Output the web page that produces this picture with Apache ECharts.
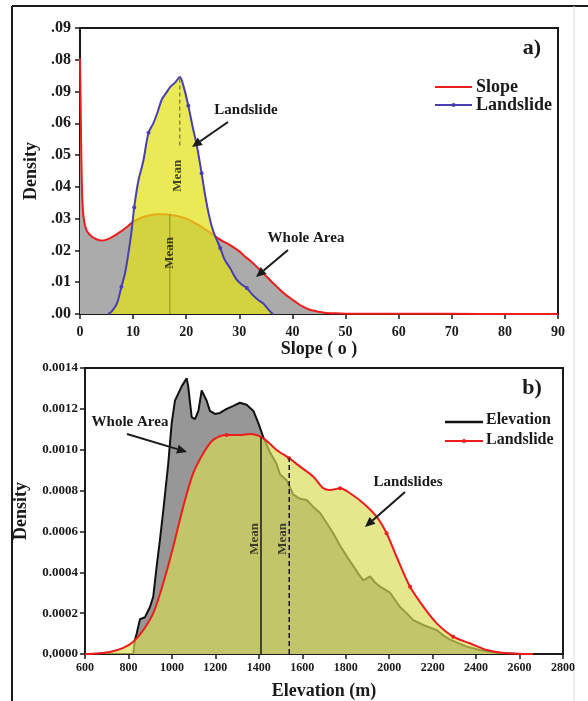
<!DOCTYPE html>
<html>
<head>
<meta charset="utf-8">
<script src="https://cdn.jsdelivr.net/npm/echarts@6/dist/echarts.min.js"></script>
<style>
  html, body { margin: 0; padding: 0; background: #ffffff; }
  #main { width: 588px; height: 701px; }
</style>
</head>
<body>
<div id="main"></div>
<script>
// ---------- a) slope density ----------
const slopeWholeX = [0, 0.15, 0.3, 0.5, 0.8, 1.2, 1.7, 2.2, 3, 4, 5, 6, 7, 8, 9, 10, 11, 12, 13, 14, 15, 16, 17, 18, 19, 20,
  21, 22, 23, 24, 25, 26, 27, 28, 29, 30, 31, 32, 33, 34, 35, 36, 37, 38, 39, 40, 41, 42, 43, 44, 45, 46, 48, 50, 60, 70, 80, 90];
const slopeWhole = [0.0805, 0.062, 0.045, 0.034, 0.029, 0.0265, 0.0252, 0.0244, 0.0236, 0.0231, 0.0234, 0.0242, 0.0252, 0.0263, 0.0276, 0.029,
  0.0299, 0.0306, 0.031, 0.0313, 0.0314, 0.0314, 0.0312, 0.0309, 0.0305, 0.03,
  0.0292, 0.0283, 0.0273, 0.0262, 0.025, 0.0238, 0.0228, 0.0219, 0.0209, 0.0197, 0.0182, 0.0168, 0.0153, 0.0137, 0.012, 0.0103, 0.0087,
  0.0071, 0.0057, 0.0045, 0.0033, 0.0023, 0.0015, 0.001, 0.0007, 0.0004, 0.0002, 0.0001, 0.00005, 0.00004, 0.00003, 0.00003];

const slopeLandX = [5.3, 6, 7, 7.8, 8.5, 9.1, 9.7, 10.2, 11, 11.9, 12.9, 13.8, 14.6, 15.4, 16.2, 17, 17.9, 18.8, 19.6, 20.4, 21.2, 22,
  22.9, 23.6, 24.3, 25, 25.7, 26.4, 27.2, 28.2, 29.5, 30.5, 31.4, 32.5, 33.5, 34.5, 35.3, 36, 36.4];
const slopeLand = [0, 0.0008, 0.0035, 0.0086, 0.013, 0.019, 0.026, 0.0335, 0.042, 0.048, 0.057, 0.06, 0.0635, 0.0675, 0.0695, 0.0715,
  0.0728, 0.0746, 0.071, 0.0655, 0.059, 0.053, 0.0443, 0.037, 0.031, 0.0265, 0.0235, 0.0208, 0.0172, 0.0146, 0.0108, 0.0092,
  0.0082, 0.006, 0.0045, 0.0033, 0.0018, 0.0004, 0];
const slopeLandMarks = [7.8, 10.2, 12.9, 20.4, 22.9, 26.4, 31.4];

const slopeYTicks = ['.00', '.01', '.02', '.03', '.04', '.05', '.06', '.09', '.08', '.09'];
// mean positions: [x, bottom, top]
const slopeMeanLand = [18.8, 0.053, 0.0746];
const slopeMeanWhole = [16.9, 0, 0.0313];

// ---------- b) elevation density ----------
const elevWholeX = [822, 830, 838, 853, 876, 899, 914, 930, 945, 960, 983, 999, 1014, 1045, 1068, 1075, 1091, 1106, 1122, 1137, 1160,
  1175, 1198, 1221, 1252, 1283, 1313, 1344, 1375, 1398, 1421, 1450, 1482, 1497, 1528, 1559, 1590, 1620, 1651, 1682, 1713, 1743,
  1774, 1804, 1835, 1860, 1881, 1912, 1935, 1958, 2004, 2050, 2080, 2111, 2157, 2219, 2250, 2280, 2357, 2418, 2500, 2600];
const elevWhole = [0, 0.00007, 0.0001, 0.00017, 0.00018, 0.00023, 0.00028, 0.00043, 0.00056, 0.0007, 0.00093, 0.00113, 0.00124, 0.00131,
  0.00135, 0.00131, 0.00116, 0.00115, 0.00119, 0.00129, 0.00124, 0.00119, 0.001175, 0.00118, 0.0012, 0.001215, 0.00123, 0.00122,
  0.00119, 0.00113, 0.00106, 0.00099, 0.00093, 0.00088, 0.00085, 0.00078, 0.00076, 0.000754, 0.00072, 0.00069, 0.00064, 0.00059,
  0.00053, 0.00048, 0.00043, 0.00039, 0.00036, 0.00038, 0.00035, 0.00033, 0.0003, 0.00023, 0.0002, 0.000166, 0.000142, 0.000117,
  0.00009, 0.00007, 0.000036, 0.00002, 0.000005, 0];

const elevLandX = [600, 650, 715, 776, 822, 868, 914, 960, 1006, 1052, 1098, 1144, 1190, 1252, 1313, 1359, 1421, 1482, 1540, 1590, 1651,
  1697, 1728, 1774, 1820, 1881, 1942, 1988, 2034, 2096, 2157, 2219, 2295, 2372, 2449, 2541, 2662];
const elevLand = [0, 0.000003, 0.00001, 0.00003, 0.00006, 0.000117, 0.0002, 0.000346, 0.000525, 0.000721, 0.000885, 0.000982, 0.001048,
  0.001072, 0.001072, 0.001077, 0.001056, 0.000999, 0.000958, 0.000917, 0.000868, 0.000811, 0.000803, 0.000811, 0.000787,
  0.000738, 0.000672, 0.000591, 0.000476, 0.000329, 0.000232, 0.00015, 0.0000847, 0.0000524, 0.0000196, 0.0000034, 0];
const elevLandMarks = [1252, 1540, 1774, 1988, 2096, 2295];

const elevYTicks = ['0,0000', '0.0002', '0.0004', '0.0006', '0.0008', '0.0010', '0.0012', '0.0014'];
const elevMeanWhole = [1410, 0, 0.00106];
const elevMeanLand = [1540, 0, 0.000958];

// ---------- helpers ----------
const FONT = '"Liberation Serif", "Times New Roman", serif';
const INK = '#1a1a1a';

function pairs(xs, ys) { return xs.map((x, i) => [x, ys[i]]); }
function marked(xs, ys, marks) {
  return xs.map((x, i) => ({ value: [x, ys[i]], symbol: marks.includes(x) ? 'circle' : 'none' }));
}
function meanLine(m) { return [[m[0], m[1]], [m[0], m[2]]]; }

function arrow(x1, y1, x2, y2) {
  const ang = Math.atan2(y2 - y1, x2 - x1);
  const len = 10, half = 4.5;
  const bx = x2 - len * Math.cos(ang), by = y2 - len * Math.sin(ang);
  const px = -Math.sin(ang) * half, py = Math.cos(ang) * half;
  return [
    { type: 'line', silent: true, z: 50, shape: { x1: x1, y1: y1, x2: bx, y2: by }, style: { stroke: INK, lineWidth: 2 } },
    { type: 'polygon', silent: true, z: 50, shape: { points: [[x2, y2], [bx + px, by + py], [bx - px, by - py]] }, style: { fill: INK } }
  ];
}
function text(x, y, s, size, extra) {
  return {
    type: 'text', silent: true, z: 50, x: x, y: y,
    style: Object.assign({ text: s, font: 'bold ' + size + 'px ' + FONT, fill: INK, align: 'left', verticalAlign: 'middle' }, extra || {})
  };
}
function legendLine(x1, x2, y, color, width, withDot) {
  const out = [{ type: 'line', silent: true, z: 50, shape: { x1: x1, y1: y, x2: x2, y2: y }, style: { stroke: color, lineWidth: width } }];
  if (withDot) out.push({ type: 'circle', silent: true, z: 51, shape: { cx: (x1 + x2) / 2, cy: y, r: 2 }, style: { fill: color } });
  return out;
}

const labelFont = (size, extra) => Object.assign({ fontFamily: FONT, fontSize: size, fontWeight: 'bold', color: INK }, extra || {});

const axisCommon = {
  axisLine: { lineStyle: { color: INK, width: 2 } },
  axisTick: { show: true, length: 5, lineStyle: { color: INK, width: 1.5 } },
  splitLine: { show: false },
  nameTextStyle: labelFont(18)
};

const meanText = (pt) => ({
  type: 'scatter', symbolSize: 0, silent: true, z: 20,
  data: [pt],
  label: Object.assign({ show: true, position: 'inside', formatter: 'Mean', rotate: 90 }, labelFont(13))
});

const gridBase = { show: true, borderColor: INK, borderWidth: 2, backgroundColor: 'transparent', containLabel: false, outerBoundsMode: 'none' };

const option = {
  backgroundColor: '#ffffff',
  animation: false,
  grid: [
    Object.assign({ left: 80, top: 28, width: 478, height: 286 }, gridBase),
    Object.assign({ left: 85, top: 368, width: 478, height: 286 }, gridBase)
  ],
  xAxis: [
    Object.assign({}, axisCommon, {
      gridIndex: 0, type: 'value', min: 0, max: 90, interval: 10,
      name: 'Slope ( o )', nameLocation: 'middle', nameGap: 25,
      axisLabel: labelFont(14, { margin: 11, formatter: v => String(v) })
    }),
    Object.assign({}, axisCommon, {
      gridIndex: 1, type: 'value', min: 600, max: 2800, interval: 200,
      name: 'Elevation (m)', nameLocation: 'middle', nameGap: 28,
      axisLabel: labelFont(12, { margin: 8, formatter: v => String(v) })
    })
  ],
  yAxis: [
    Object.assign({}, axisCommon, {
      gridIndex: 0, type: 'value', min: 0, max: 0.09, interval: 0.01,
      name: 'Density', nameLocation: 'middle', nameGap: 37,
      axisLabel: labelFont(16, { margin: 9, formatter: v => slopeYTicks[Math.round(v / 0.01)] })
    }),
    Object.assign({}, axisCommon, {
      gridIndex: 1, type: 'value', min: 0, max: 0.0014, interval: 0.0002,
      name: 'Density', nameLocation: 'middle', nameGap: 55,
      axisLabel: labelFont(13, { margin: 7, formatter: v => elevYTicks[Math.round(v / 0.0002)] })
    })
  ],
  series: [
    // a) whole area
    {
      name: 'Slope', type: 'line', xAxisIndex: 0, yAxisIndex: 0, z: 2,
      data: pairs(slopeWholeX, slopeWhole), symbol: 'none', smooth: 0.3,
      lineStyle: { color: '#ee1c1c', width: 2 },
      areaStyle: { color: '#ababab', opacity: 1 }
    },
    // a) landslide
    {
      name: 'Landslide', type: 'line', xAxisIndex: 0, yAxisIndex: 0, z: 3,
      data: marked(slopeLandX, slopeLand, slopeLandMarks), symbol: 'circle', symbolSize: 4,
      showSymbol: true, showAllSymbol: true, smooth: 0.3,
      itemStyle: { color: '#4a3fb0' },
      lineStyle: { color: '#4a3fb0', width: 2 },
      areaStyle: { color: 'rgba(226,226,22,0.72)', opacity: 1 }
    },
    {
      type: 'line', xAxisIndex: 0, yAxisIndex: 0, z: 10, silent: true, symbol: 'none',
      data: meanLine(slopeMeanLand), lineStyle: { color: '#555533', width: 1, type: [4, 3] }
    },
    {
      type: 'line', xAxisIndex: 0, yAxisIndex: 0, z: 10, silent: true, symbol: 'none',
      data: meanLine(slopeMeanWhole), lineStyle: { color: 'rgba(110,110,20,0.45)', width: 1.5 }
    },
    Object.assign(meanText([18.45, 0.0435]), { xAxisIndex: 0, yAxisIndex: 0 }),
    Object.assign(meanText([16.9, 0.0192]), { xAxisIndex: 0, yAxisIndex: 0 }),

    // b) whole area
    {
      name: 'Elevation', type: 'line', xAxisIndex: 1, yAxisIndex: 1, z: 2,
      data: pairs(elevWholeX, elevWhole), symbol: 'none',
      lineStyle: { color: '#111111', width: 2 },
      areaStyle: { color: '#979797', opacity: 1 }
    },
    // b) landslide
    {
      name: 'Landslide', type: 'line', xAxisIndex: 1, yAxisIndex: 1, z: 3,
      data: marked(elevLandX, elevLand, elevLandMarks), symbol: 'circle', symbolSize: 4,
      showSymbol: true, showAllSymbol: true, smooth: 0.3,
      itemStyle: { color: '#ee1c1c' },
      lineStyle: { color: '#ee1c1c', width: 2 },
      areaStyle: { color: 'rgba(215,220,86,0.68)', opacity: 1 }
    },
    {
      type: 'line', xAxisIndex: 1, yAxisIndex: 1, z: 10, silent: true, symbol: 'none',
      data: meanLine(elevMeanWhole), lineStyle: { color: INK, width: 1.5 }
    },
    {
      type: 'line', xAxisIndex: 1, yAxisIndex: 1, z: 10, silent: true, symbol: 'none',
      data: meanLine(elevMeanLand), lineStyle: { color: INK, width: 1.5, type: [5, 3] }
    },
    Object.assign(meanText([1382, 0.000563]), { xAxisIndex: 1, yAxisIndex: 1 }),
    Object.assign(meanText([1511, 0.000563]), { xAxisIndex: 1, yAxisIndex: 1 })
  ],
  graphic: [
    // outer frame
    { type: 'line', silent: true, shape: { x1: 12, y1: 6, x2: 588, y2: 6 }, style: { stroke: INK, lineWidth: 2 } },
    { type: 'line', silent: true, shape: { x1: 12, y1: 6, x2: 12, y2: 701 }, style: { stroke: INK, lineWidth: 2 } },
    { type: 'line', silent: true, shape: { x1: 574, y1: 6, x2: 574, y2: 701 }, style: { stroke: '#dddddd', lineWidth: 1 } },

    // panel tags
    text(532, 48, 'a)', 22, { align: 'center' }),
    text(532, 388, 'b)', 22, { align: 'center' }),

    // legend a
    ...legendLine(435, 472, 87, '#ee1c1c', 2, false),
    text(476, 87, 'Slope', 18),
    ...legendLine(435, 472, 105, '#4a3fb0', 2, true),
    text(476, 105, 'Landslide', 18),

    // legend b
    ...legendLine(445, 483, 422, '#111111', 2.5, false),
    text(486, 420, 'Elevation', 16),
    ...legendLine(445, 483, 441, '#ee1c1c', 2, true),
    text(486, 440, 'Landslide', 16),

    // callouts a
    text(246, 110, 'Landslide', 15, { align: 'center' }),
    ...arrow(228, 122, 192, 147),
    text(306, 238, 'Whole Area', 15, { align: 'center' }),
    ...arrow(288, 250, 256, 277),

    // callouts b
    text(130, 422, 'Whole Area', 15, { align: 'center' }),
    ...arrow(127, 434, 187, 452),
    text(408, 482, 'Landslides', 15, { align: 'center' }),
    ...arrow(405, 492, 365, 527)
  ]
};

const chart = echarts.init(document.getElementById('main'), null, { renderer: 'canvas' });
chart.setOption(option);
</script>
</body>
</html>
